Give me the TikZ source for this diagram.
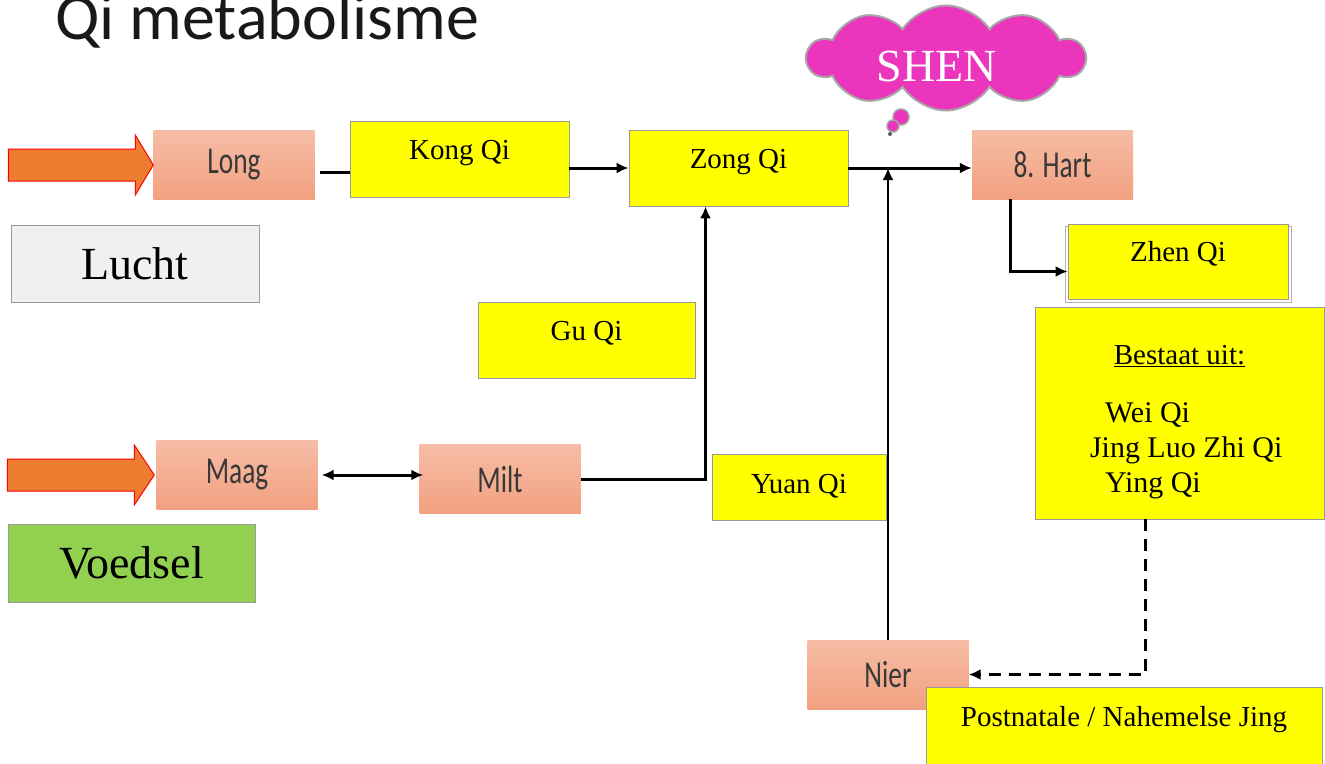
\documentclass[tikz,border=0pt]{standalone}
\usepackage{fontspec}
\setmainfont{Liberation Serif}
\newfontfamily\calibri{Carlito}
\usetikzlibrary{shapes.symbols,arrows.meta}

\definecolor{qiyellow}{HTML}{FFFF00}
\definecolor{orgtop}{HTML}{F6BDA6}
\definecolor{orgbot}{HTML}{F2A080}
\definecolor{orgtext}{HTML}{383838}
\definecolor{shenpink}{HTML}{EA35BC}
\definecolor{fatorange}{HTML}{ED7D31}
\definecolor{luchtgrey}{HTML}{F0F0F0}
\definecolor{voedselgreen}{HTML}{92D050}

\newcommand{\orglabel}[1]{\scalebox{0.72}[1]{\calibri\fontsize{38}{40}\selectfont #1}}

\begin{document}
\begin{tikzpicture}[x=1pt,y=-1pt,
        organ/.style={top color=orgtop, bottom color=orgbot, inner sep=0pt,
          minimum width=161pt, minimum height=69pt, text=orgtext},
        qibox/.style={fill=qiyellow, draw=gray!80, line width=0.8pt, inner sep=0pt,
          font=\fontsize{29}{35}\selectfont},
        bigbox/.style={draw=gray!80, line width=0.8pt, inner sep=0pt,
          font=\fontsize{46}{50}\selectfont},
        tip/.style={-{Latex[length=12pt,width=11pt]}},
        flow/.style={line width=3pt, tip},
        fatarrow/.style={fill=fatorange, draw=red, line width=1pt}]
  \useasboundingbox (0,0) rectangle (1325,763);

  % title
  \node[anchor=base west, inner sep=0pt, font=\calibri\fontsize{66}{70}\selectfont,
    text=black!90] (title) at (55,39) {Qi metabolisme};

  % organs
  \node[organ] (long) at (234,165) {\orglabel{Long}};
  \node[organ] (maag) at (237,475) {\orglabel{Maag}};
  \node[organ] (milt) at (500,479) {\orglabel{Milt}};
  \node[organ] (hart) at (1052.5,164.5) {\orglabel{8. Hart}};
  \node[organ] (nier) at (888,674.5) {\orglabel{Nier}};

  % sources
  \node[bigbox, fill=luchtgrey, minimum width=248pt, minimum height=77pt] (lucht) at (135,263.5) {Lucht};
  \node[bigbox, fill=voedselgreen, minimum width=247pt, minimum height=78pt] (voedsel) at (131.5,563) {Voedsel};

  % qi boxes
  \node[qibox, minimum width=219pt, text height=38pt, text depth=38pt] (kongqi) at (459.5,159) {Kong Qi};
  \node[qibox, minimum width=219pt, text height=38pt, text depth=38pt] (zongqi) at (738.5,168) {Zong Qi};
  \node[qibox, minimum width=217pt, text height=38pt, text depth=38pt] (guqi) at (586.5,340) {Gu Qi};
  \node[qibox, minimum width=174pt, text height=39pt, text depth=27pt] (yuanqi) at (799,487) {Yuan Qi};
  \draw[gray!60, fill=white, line width=1pt] (1065,226) rectangle (1291,302);
  \node[qibox, minimum width=220pt, text height=37pt, text depth=38pt] (zhenqi) at (1178,261.5) {Zhen Qi};
  \node[qibox, minimum width=289pt, minimum height=212pt] (bestaat) at (1179.5,413)
    {\parbox{289pt}{\vspace*{18pt}\centering\underline{Bestaat uit:}\par\vspace{23pt}
     \raggedright\fontsize{30}{35}\selectfont
     \hspace*{70pt}Wei Qi\\
     \hspace*{55pt}Jing Luo Zhi Qi\\
     \hspace*{70pt}Ying Qi\par}};

  % shen
  \node[cloud, cloud puffs=10, cloud puff arc=115, aspect=2.6, fill=shenpink, draw=gray!70,
    line width=2pt, minimum width=277pt, minimum height=105pt, inner sep=0pt,
    text=white, text height=48pt, font=\fontsize{46}{50}\selectfont] (shen) at (946,58) {SHEN\hspace*{18pt}};
  \draw[gray!70, fill=shenpink, line width=1.5pt] (901,117) circle [radius=8pt];
  \draw[gray!70, fill=shenpink, line width=1.5pt] (893,126) circle [radius=6pt];
  \fill[gray!70!black] (890,134) circle [radius=2pt];

  % inputs
  \draw[fatarrow] ([xshift=-145pt,yshift=-16pt]long.west) -- ([xshift=-18pt,yshift=-16pt]long.west)
    -- ([xshift=-18pt,yshift=-30pt]long.west) -- (long.west) -- ([xshift=-18pt,yshift=30pt]long.west)
    -- ([xshift=-18pt,yshift=16pt]long.west) -- ([xshift=-145pt,yshift=16pt]long.west) -- cycle;
  \draw[fatarrow] ([xshift=-149pt,yshift=-16pt]maag.west) -- ([xshift=-22pt,yshift=-16pt]maag.west)
    -- ([xshift=-22pt,yshift=-30pt]maag.west) -- ([xshift=-2pt]maag.west) -- ([xshift=-22pt,yshift=30pt]maag.west)
    -- ([xshift=-22pt,yshift=16pt]maag.west) -- ([xshift=-149pt,yshift=16pt]maag.west) -- cycle;

  % connectors
  \draw[line width=3pt] ([xshift=5pt,yshift=-7pt]long.east) -- ([yshift=-7pt]long.east -| kongqi.west);
  \draw[flow] (zongqi.west -| kongqi.east) -- (zongqi.west);
  \draw[flow] (zongqi.east) -- (zongqi.east -| hart.west);
  \draw[flow] (milt.east) -| ([xshift=-33pt]zongqi.south);
  \draw[line width=3pt, {Latex[length=12pt,width=11pt]}-{Latex[length=12pt,width=11pt]}]
    ([xshift=4pt]maag.east) -- ([xshift=4pt]maag.east -| milt.west);
  \draw[line width=2.2pt, tip] (nier.north) -- (nier.north |- zongqi.east);
  \draw[flow] ([xshift=-42pt]hart.south) |- ([yshift=-10pt]zhenqi.west);
  \draw[flow, dash pattern=on 12pt off 8pt, line width=3.5pt] ([xshift=-34pt]bestaat.south) |- (nier.east);

  \node[qibox, minimum width=396pt, text height=39pt, text depth=49pt] (postnatale) at (1124,731) {Postnatale / Nahemelse Jing};
\end{tikzpicture}
\end{document}
